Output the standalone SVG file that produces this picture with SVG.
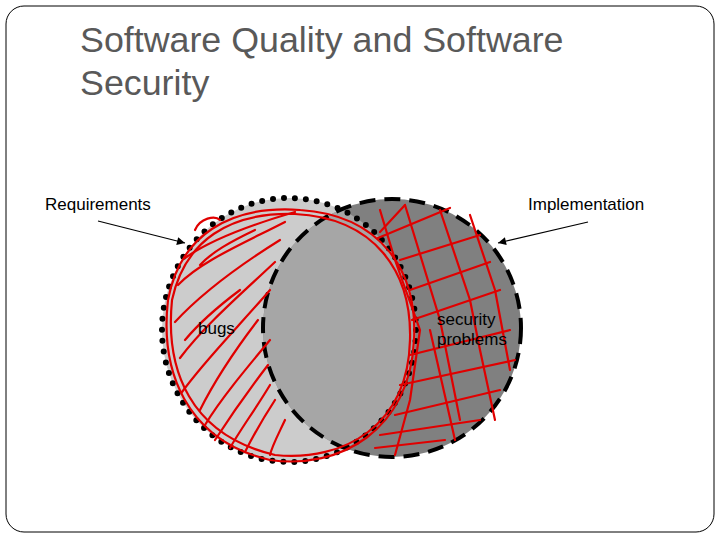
<svg xmlns="http://www.w3.org/2000/svg" width="720" height="540" viewBox="0 0 720 540">
<defs>
<marker id="ah" viewBox="0 0 10 10" refX="10" refY="5" markerWidth="10" markerHeight="8" orient="auto" markerUnits="userSpaceOnUse"><path d="M0,0 L10,5 L0,10 z" fill="#000"/></marker>
<clipPath id="reqclip"><ellipse cx="289" cy="330" rx="127" ry="132"/></clipPath>
</defs>
<style>
.t{font-family:"Liberation Sans",Arial,sans-serif;fill:#000;font-size:17px}
.title{font-family:"Liberation Sans",Arial,sans-serif;fill:#595959;font-size:35.8px}
.red{fill:none;stroke:#e00000;stroke-width:2.2;stroke-linecap:round;stroke-linejoin:round}
</style>
<rect x="0" y="0" width="720" height="540" fill="#fff"/>
<rect x="6" y="6" width="708" height="526" rx="18" fill="#fff" stroke="#000" stroke-width="1"/>
<text class="title" x="80" y="52">Software Quality and Software</text>
<text class="title" x="80" y="95">Security</text>
<g id="requirements-circle">
<ellipse cx="289" cy="330" rx="127" ry="132" fill="#cccccc"/>
</g>
<g id="implementation-circle">
<circle cx="392" cy="328" r="129" fill="#808080"/>
<circle cx="392" cy="328" r="129" fill="#a6a6a6" clip-path="url(#reqclip)"/>
<circle cx="392" cy="328" r="129" fill="none" stroke="#000" stroke-width="4" stroke-dasharray="16 9"/>
</g>
<g id="requirements-outline">
<ellipse cx="289" cy="330" rx="127" ry="132" fill="none" stroke="#000" stroke-width="6" stroke-dasharray="0 11" stroke-linecap="round"/>
</g>
<g id="scribbles">
<path class="red" d="M300,210 C230,205 180,235 168,300 C160,370 185,440 270,460 C340,470 410,430 414,340 C418,270 380,215 300,210"/>
<path class="red" d="M295,214 C230,212 185,240 172,300 C165,370 190,435 275,455 C345,462 408,425 410,340 C412,272 375,218 295,214"/>
<path class="red" d="M195,230 C200,218 215,215 220,220"/>
<path class="red" d="M295,212 C250,225 210,240 185,258 M285,222 C240,245 200,262 178,285 M280,240 C240,265 200,295 175,322 M275,262 C240,295 205,325 180,358 M270,290 C240,325 205,360 182,392 M258,320 C235,350 215,380 200,410 M270,340 C245,370 220,400 205,425 M268,365 C245,395 228,420 215,440 M270,385 C255,410 240,430 230,448 M275,400 C262,420 252,438 245,452 M285,420 C278,435 272,446 270,455 M255,230 C230,242 212,252 200,265 M240,290 C220,305 200,322 185,340"/>
<path class="red" d="M380,232 L405,205 M378,238 L450,208 M400,260 L480,235 M410,290 L490,262 M412,320 L500,290 M410,355 L510,330 M400,385 L515,360 M395,415 L500,390 M380,435 L480,420 M375,448 L445,440"/>
<path class="red" d="M380,210 L395,260 L420,330 L410,400 L395,455 M405,205 L440,320 L460,420 M440,210 L470,300 L480,350 L495,420 M470,215 L495,290 L510,370 M430,330 L455,440"/>
</g>
<g id="labels">
<text class="t" x="45" y="210">Requirements</text>
<text class="t" x="528" y="210">Implementation</text>
<text class="t" x="198" y="334">bugs</text>
<text class="t" x="437" y="325">security</text>
<text class="t" x="437" y="345">problems</text>
</g>
<g id="connectors" stroke="#000" stroke-width="1.2">
<line x1="98" y1="221" x2="185" y2="243" marker-end="url(#ah)"/>
<line x1="588" y1="222" x2="498" y2="243" marker-end="url(#ah)"/>
</g>
</svg>
